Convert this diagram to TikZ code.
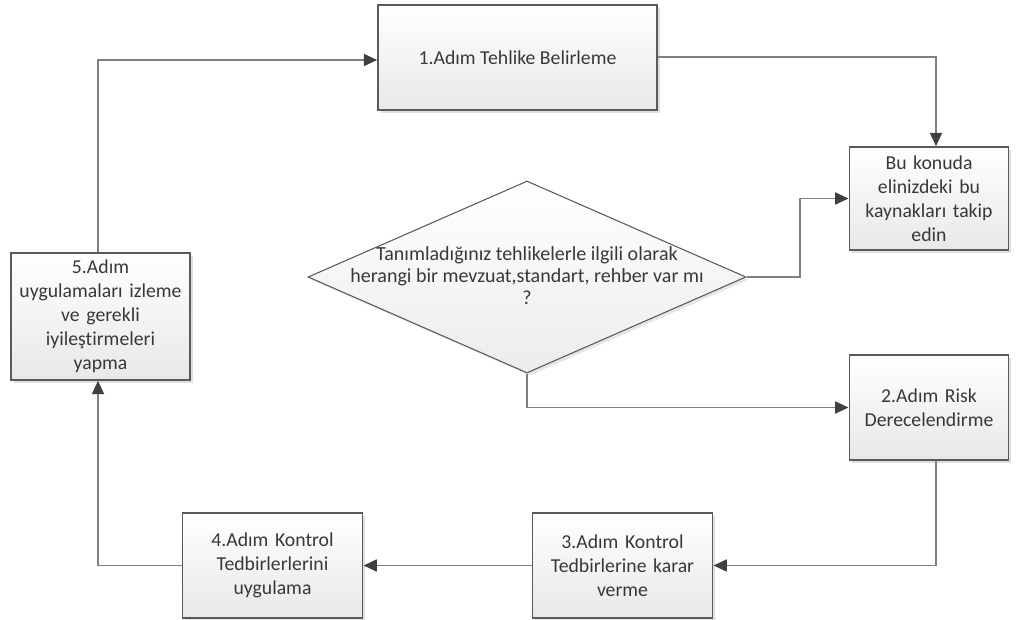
\documentclass[tikz,border=0pt]{standalone}
\usepackage{fontspec}
\setmainfont{Carlito}[Ligatures=NoCommon]
\usetikzlibrary{shapes.geometric,arrows.meta,shadows}
\definecolor{txt}{HTML}{383838}
\definecolor{edge}{HTML}{5A5A5A}
\definecolor{conn}{HTML}{808080}
\definecolor{tip}{HTML}{404040}
\tikzset{
  box/.style={draw=edge, line width=1.2pt, top color=white, bottom color=gray!18,
    text=txt, align=center, inner sep=2pt,
    drop shadow={shadow xshift=2pt, shadow yshift=-2pt, opacity=0.25, fill=gray},
    font=\fontsize{14.8pt}{18pt}\selectfont},
  dec/.style={diamond, draw=edge, line width=0.8pt, top color=white, bottom color=gray!15,
    text=txt, align=center, inner sep=0pt, aspect=2.28,
    drop shadow={shadow xshift=2pt, shadow yshift=-2pt, opacity=0.2, fill=gray}},
  dtext/.style={text=txt, align=center, font=\fontsize{15pt}{16.5pt}\selectfont},
  conn/.style={draw=conn, line width=1.3pt, -{Triangle[length=10pt,width=9pt,color=tip]}},
}
\begin{document}
\begin{tikzpicture}[x=0.75pt,y=-0.75pt]
\useasboundingbox (0,0) rectangle (1024,620);
\node[box, minimum width=279*0.75pt, minimum height=105*0.75pt] (s1) at (517.5,57.5) {1.Adım Tehlike Belirleme};
\node[box, minimum width=158*0.75pt, minimum height=103*0.75pt, text width=154*0.75pt] (bu) at (929,198.5) {Bu konuda\\elinizdeki bu\\kaynakları takip\\edin};
\node[dec, minimum width=438*0.75pt, minimum height=192*0.75pt] (d) at (527,277) {};
\node[dtext] (dt) at (527,276) {Tanımladığınız tehlikelerle ilgili olarak\\herangi bir mevzuat,standart, rehber var mı\\?};
\node[box, minimum width=158*0.75pt, minimum height=105*0.75pt, text width=154*0.75pt] (s2) at (929,407.5) {2.Adım Risk\\Derecelendirme};
\node[box, minimum width=179*0.75pt, minimum height=105*0.75pt, text width=175*0.75pt] (s3) at (622.5,565.5) {3.Adım Kontrol\\Tedbirlerine karar\\verme};
\node[box, minimum width=179*0.75pt, minimum height=105*0.75pt, text width=175*0.75pt] (s4) at (272.5,565.5) {4.Adım Kontrol\\Tedbirlerlerini\\uygulama};
\node[box, minimum width=177*0.75pt, minimum height=127*0.75pt, text width=174*0.75pt] (s5) at (100.5,316.5) {5.Adım\\uygulamaları izleme\\ve gerekli\\iyileştirmeleri\\yapma};
\draw[conn] (s1.east |- 0,57) -| (bu.north -| 936,0);
\draw[conn] (d.east) -- (800,277) |- (bu.west);
\draw[conn] (d.south) |- (s2.west);
\draw[conn] (s2.south -| 936,0) |- (s3.east);
\draw[conn] (s3.west) -- (s4.east);
\draw[conn] (s4.west) -| (s5.south -| 98,0);
\draw[conn] (s5.north -| 98,0) |- (s1.west |- 0,60);
\end{tikzpicture}
\end{document}
